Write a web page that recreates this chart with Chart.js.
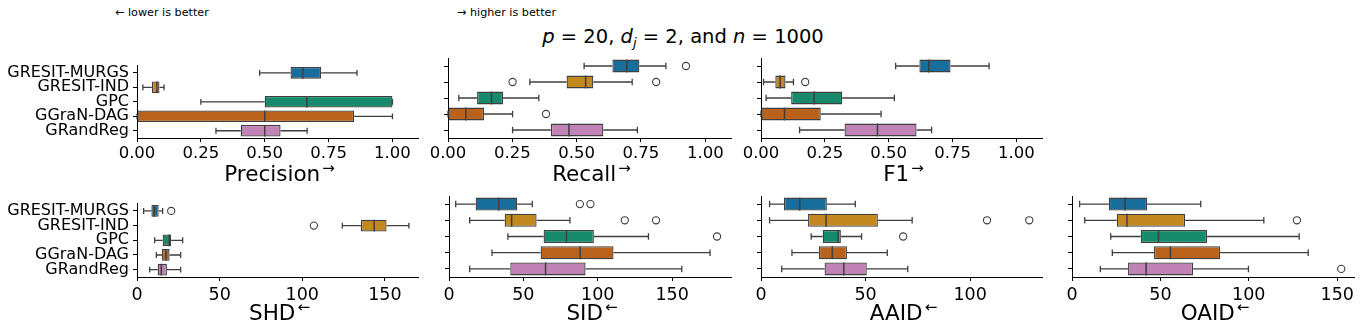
<!DOCTYPE html>
<html><head><meta charset="utf-8">
<script src="https://cdn.jsdelivr.net/npm/chart.js@4.4.1/dist/chart.umd.min.js"></script>
<style>
body{margin:0;background:#fff;width:1362px;height:332px;overflow:hidden;position:relative;font-family:"DejaVu Sans",sans-serif;}
.pane{position:absolute;}
.txt{position:absolute;white-space:nowrap;color:#000;}
.ax{font-size:21.5px;line-height:21px;transform:translateX(-50%);}
.ax span{font-size:15px;position:relative;top:-8px;margin-left:2px;}
</style></head><body>
<script>
// ---------- DATA ----------
const categories = ['GRESIT-MURGS','GRESIT-IND','GPC','GGraN-DAG','GRandReg'];
const colors = ['#176d9c','#c38820','#168a6a','#ba611b','#c182b5'];
// five-number summaries per category: [whiskerLow, q1, median, q3, whiskerHigh]
const precisionBox = [[0.48,0.601,0.649,0.721,0.861],[0.023,0.058,0.078,0.088,0.106],[0.25,0.5,0.665,1.0,1.0],[0.0,0.0,0.5,0.85,1.0],[0.309,0.406,0.5,0.562,0.666]];
const precisionOut = [[],[],[],[],[]];
const recallBox = [[0.529,0.639,0.695,0.744,0.847],[0.318,0.461,0.535,0.565,0.716],[0.042,0.113,0.169,0.214,0.353],[0.0,0.0,0.069,0.14,0.251],[0.251,0.4,0.47,0.604,0.736]];
const recallOut = [[0.925],[0.251,0.809],[],[0.381],[]];
const f1Box = [[0.527,0.62,0.657,0.742,0.893],[0.01,0.056,0.075,0.096,0.127],[0.02,0.118,0.208,0.318,0.522],[0.0,0.0,0.092,0.234,0.47],[0.151,0.327,0.456,0.609,0.668]];
const f1Out = [[],[0.173],[],[],[]];
const shdBox = [[4.0,8.7,10.5,13.1,15.5],[124.2,135.5,143.5,151,164.5],[10.7,15.5,19.5,20.7,27.6],[11.7,15.1,17.5,19.7,26.4],[7.7,12.5,14.7,18.1,26.4]];
const shdOut = [[20.7],[107],[],[],[]];
const sidBox = [[4.5,17.9,33.4,45.9,56],[13.9,37.4,42.1,58.9,81.3],[39.6,63.6,79,97.4,134.1],[28.9,61.6,88.2,110.6,175.5],[13.9,41.2,64.9,91.8,156.5]];
const sidOut = [[88,95.1],[118.2,139.2],[180.2],[],[]];
const aaidBox = [[4.1,11,18.5,31.5,45.1],[4.1,22.5,31.1,55.9,72.3],[24,29.5,36.9,38.2,48.1],[14.8,27.7,34.1,41.1,60.4],[9.9,30.4,39.6,50.6,70.2]];
const aaidOut = [[],[108.1,128.3],[68],[],[]];
const oaidBox = [[4.3,20.8,30,42.5,72.8],[7.2,25.3,31.1,64,108.5],[21.9,38.9,48.9,76.4,128.5],[22.8,46.4,55.7,83.8,133.6],[16,31.7,41.9,68.5,99.8]];
const oaidOut = [[],[127.2],[],[],[152.3]];
const ticksUnit = [0,0.25,0.5,0.75,1.0];
const ticks50 = [0,50,100,150];
const ticks50b = [0,50,100];
const metricNames = ['Precision','Recall','F1','SHD','SID','AAID','OAID'];
const metricArrows = ['→','→','→','←','←','←','←'];

// ---------- LAYOUT ----------
const panels = [
  {name:0, box:precisionBox, out:precisionOut, max:1.1, ticks:ticksUnit, dec:2, L:137, R:418, T:58, B:138, labels:true, fs:16.5, pad:2},
  {name:1, box:recallBox, out:recallOut, max:1.1, ticks:ticksUnit, dec:2, L:448, R:731, T:58, B:138, labels:false, fs:16.5, pad:2},
  {name:2, box:f1Box, out:f1Out, max:1.1, ticks:ticksUnit, dec:2, L:761, R:1042, T:58, B:138, labels:false, fs:16.5, pad:2},
  {name:3, box:shdBox, out:shdOut, max:170, ticks:ticks50, dec:0, L:137, R:418, T:196, B:277, labels:true, fs:17.5, pad:4},
  {name:4, box:sidBox, out:sidOut, max:189.6, ticks:ticks50, dec:0, L:449, R:731, T:196, B:277, labels:false, fs:17.5, pad:4},
  {name:5, box:aaidBox, out:aaidOut, max:134.4, ticks:ticks50b, dec:0, L:761, R:1042, T:196, B:277, labels:false, fs:17.5, pad:4},
  {name:6, box:oaidBox, out:oaidOut, max:159.5, ticks:ticks50, dec:0, L:1072, R:1354, T:196, B:277, labels:false, fs:17.5, pad:4},
];

const EDGE = '#3f3f3f';
const boxPlugin = {
  id:'boxExtras',
  afterDatasetsDraw(chart, args, opts){
    const ctx = chart.ctx, x = chart.scales.x, y = chart.scales.y;
    const meta = chart.getDatasetMeta(0);
    ctx.save();
    ctx.strokeStyle = EDGE;
    opts.stats.forEach((s,i)=>{
      const yc = y.getPixelForValue(i);
      const h = meta.data[i].height;
      const [lo,q1,med,q3,hi] = s.map(v=>x.getPixelForValue(v));
      ctx.lineWidth = 1.3;
      ctx.beginPath();
      if (q1 > lo) { ctx.moveTo(lo,yc); ctx.lineTo(q1,yc); }
      if (hi > q3) { ctx.moveTo(q3,yc); ctx.lineTo(hi,yc); }
      const c = h*0.25;
      ctx.moveTo(lo,yc-c); ctx.lineTo(lo,yc+c);
      ctx.moveTo(hi,yc-c); ctx.lineTo(hi,yc+c);
      ctx.stroke();
      ctx.lineWidth = 1.5;
      ctx.beginPath(); ctx.moveTo(med,yc-h/2); ctx.lineTo(med,yc+h/2); ctx.stroke();
      ctx.lineWidth = 1.1;
      opts.outliers[i].forEach(v=>{
        ctx.beginPath(); ctx.arc(x.getPixelForValue(v), yc, 3.6, 0, Math.PI*2); ctx.stroke();
      });
    });
    ctx.restore();
  }
};

const padTop = 6, padRight = 10, xH = 42;
panels.forEach(p=>{
  const yW = p.labels ? p.L : 25;
  const left = p.L - yW, top = p.T - padTop;
  const w = yW + (p.R - p.L) + padRight, h = padTop + (p.B - p.T) + xH;
  const div = document.createElement('div');
  div.className = 'pane';
  div.style.cssText = `left:${left}px;top:${top}px;width:${w}px;height:${h}px;`;
  const cv = document.createElement('canvas');
  cv.width = w; cv.height = h; cv.style.width = w+'px'; cv.style.height = h+'px';
  div.appendChild(cv); document.body.appendChild(div);
  const fam = '"DejaVu Sans", sans-serif';
  new Chart(cv, {
    type:'bar',
    data:{labels:categories, datasets:[{
      data:p.box.map(s=>[s[1],s[3]]),
      backgroundColor:colors, borderColor:EDGE, borderWidth:1.3, borderSkipped:false,
      barPercentage:0.8, categoryPercentage:1.0
    }]},
    options:{
      indexAxis:'y', responsive:false, animation:false, devicePixelRatio:1,
      layout:{padding:{top:padTop,right:padRight,left:0,bottom:0}},
      plugins:{legend:{display:false}, tooltip:{enabled:false}, boxExtras:{stats:p.box, outliers:p.out}},
      scales:{
        x:{type:'linear', min:0, max:p.max,
          afterBuildTicks:s=>{ s.ticks = p.ticks.map(v=>({value:v})); },
          ticks:{font:{family:fam,size:p.fs}, color:'#000', padding:p.pad, maxRotation:0, autoSkip:false,
            callback:v=>Number(v).toFixed(p.dec)},
          grid:{drawOnChartArea:false, drawTicks:true, tickLength:4, color:'#000', lineWidth:1},
          border:{display:true, color:'#000', width:1},
          afterFit:s=>{ s.height = xH; }
        },
        y:{type:'category', offset:true,
          ticks:{display:p.labels, font:{family:fam,size:16}, color:'#000', padding:4, autoSkip:false},
          grid:{drawOnChartArea:false, drawTicks:true, tickLength:4, color:'#000', lineWidth:1, offset:false},
          border:{display:true, color:'#000', width:1},
          afterFit:s=>{ s.width = yW; }
        }
      }
    },
    plugins:[boxPlugin]
  });
  const t = document.createElement('div');
  t.className = 'txt ax';
  t.style.left = ((p.L+p.R)/2 + 2) + 'px';
  t.style.top = (p.B + 24.5) + 'px';
  t.innerHTML = metricNames[p.name] + '<span>' + metricArrows[p.name] + '</span>';
  document.body.appendChild(t);
});

function addText(html, css){
  const d = document.createElement('div'); d.className='txt'; d.style.cssText = css; d.innerHTML = html; document.body.appendChild(d);
}
addText('← lower is better', 'left:115px;top:6.5px;font-size:11.2px;line-height:11px;');
addText('→ higher is better', 'left:457px;top:6.5px;font-size:11.2px;line-height:11px;');
addText('<i>p</i> = 20, <i>d</i><sub style="font-size:13px;vertical-align:-4px;line-height:0"><i>j</i></sub> = 2, and <i>n</i> = 1000',
  'left:683px;top:27px;font-size:19.5px;line-height:19px;transform:translateX(-50%);');
</script>
</body></html>
